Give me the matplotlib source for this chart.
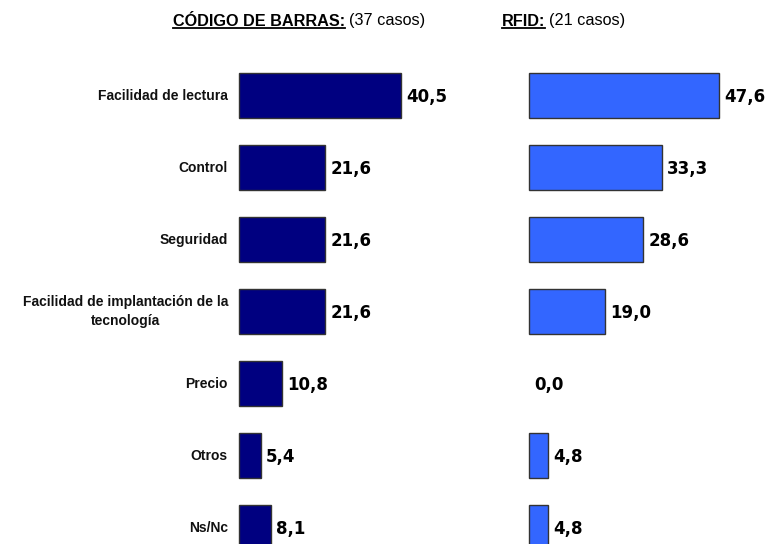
import numpy as np
import matplotlib
matplotlib.use("Agg")
import matplotlib.pyplot as plt
from matplotlib.lines import Line2D

# data
categorias = ["Facilidad de lectura", "Control", "Seguridad",
              "Facilidad de implantación de la\ntecnología",
              "Precio", "Otros", "Ns/Nc"]
codigo_barras = [40.5, 21.6, 21.6, 21.6, 10.8, 5.4, 8.1]
rfid = [47.6, 33.3, 28.6, 19.0, 0.0, 4.8, 4.8]
titulo_cb = "CÓDIGO DE BARRAS:"
casos_cb = "(37 casos)"
titulo_rfid = "RFID:"
casos_rfid = "(21 casos)"

W, H = 767, 544
fig = plt.figure(figsize=(W / 100, H / 100), dpi=100)
fig.patch.set_facecolor("white")

# axes in pixel coordinates -> figure fractions
top_px, bot_px = 59.5, 563.5
ax_h = (bot_px - top_px) / H
ax_b = 1 - bot_px / H

ax1 = fig.add_axes([239 / W, ax_b, 200 / W, ax_h])
ax2 = fig.add_axes([529 / W, ax_b, 200 / W, ax_h])

y = np.arange(len(categorias))

for ax, vals, color in [(ax1, codigo_barras, "#000080"), (ax2, rfid, "#3366FF")]:
    edges = ["#333333" if v > 0 else "none" for v in vals]
    ax.barh(y, vals, height=0.625, color=color, edgecolor=edges,
            linewidth=1.0, clip_on=False)
    ax.set_xlim(0, 50)
    ax.set_ylim(len(categorias) - 0.5, -0.5)
    ax.axis("off")
    for yi, v in zip(y, vals):
        ax.annotate(f"{v:.1f}".replace(".", ","), xy=(v, yi),
                    xytext=(3.5, -1), textcoords="offset points",
                    ha="left", va="center", fontsize=12, fontweight="bold",
                    family="DejaVu Sans", annotation_clip=False)

# category labels
for yi, cat in zip(y, categorias):
    ax1.annotate(cat, xy=(0, yi), xytext=(-8, 0), textcoords="offset points",
                 ha="right", va="center", multialignment="center",
                 fontsize=10, fontweight="bold", family="Liberation Sans",
                 color="#111111", linespacing=1.4, annotation_clip=False)

# titles with underlined part
fig.canvas.draw()
renderer = fig.canvas.get_renderer()


def titulo(x_px, bold_txt, normal_txt):
    yf = 1 - 21 / H
    t1 = fig.text(x_px / W, yf, bold_txt, fontsize=11.7, fontweight="bold",
                  family="Liberation Sans", ha="left", va="center")
    bb = t1.get_window_extent(renderer)
    fig.text((bb.x1 + 4) / W, yf, normal_txt, fontsize=11.7,
             family="Liberation Sans", ha="left", va="center")
    uy = bb.y0 + 0.5
    fig.add_artist(Line2D([bb.x0 / W, bb.x1 / W], [uy / H, uy / H],
                          color="black", linewidth=1.3,
                          transform=fig.transFigure))


titulo(173, titulo_cb, casos_cb)
titulo(502, titulo_rfid, casos_rfid)

fig.savefig("out.png", dpi=100)
